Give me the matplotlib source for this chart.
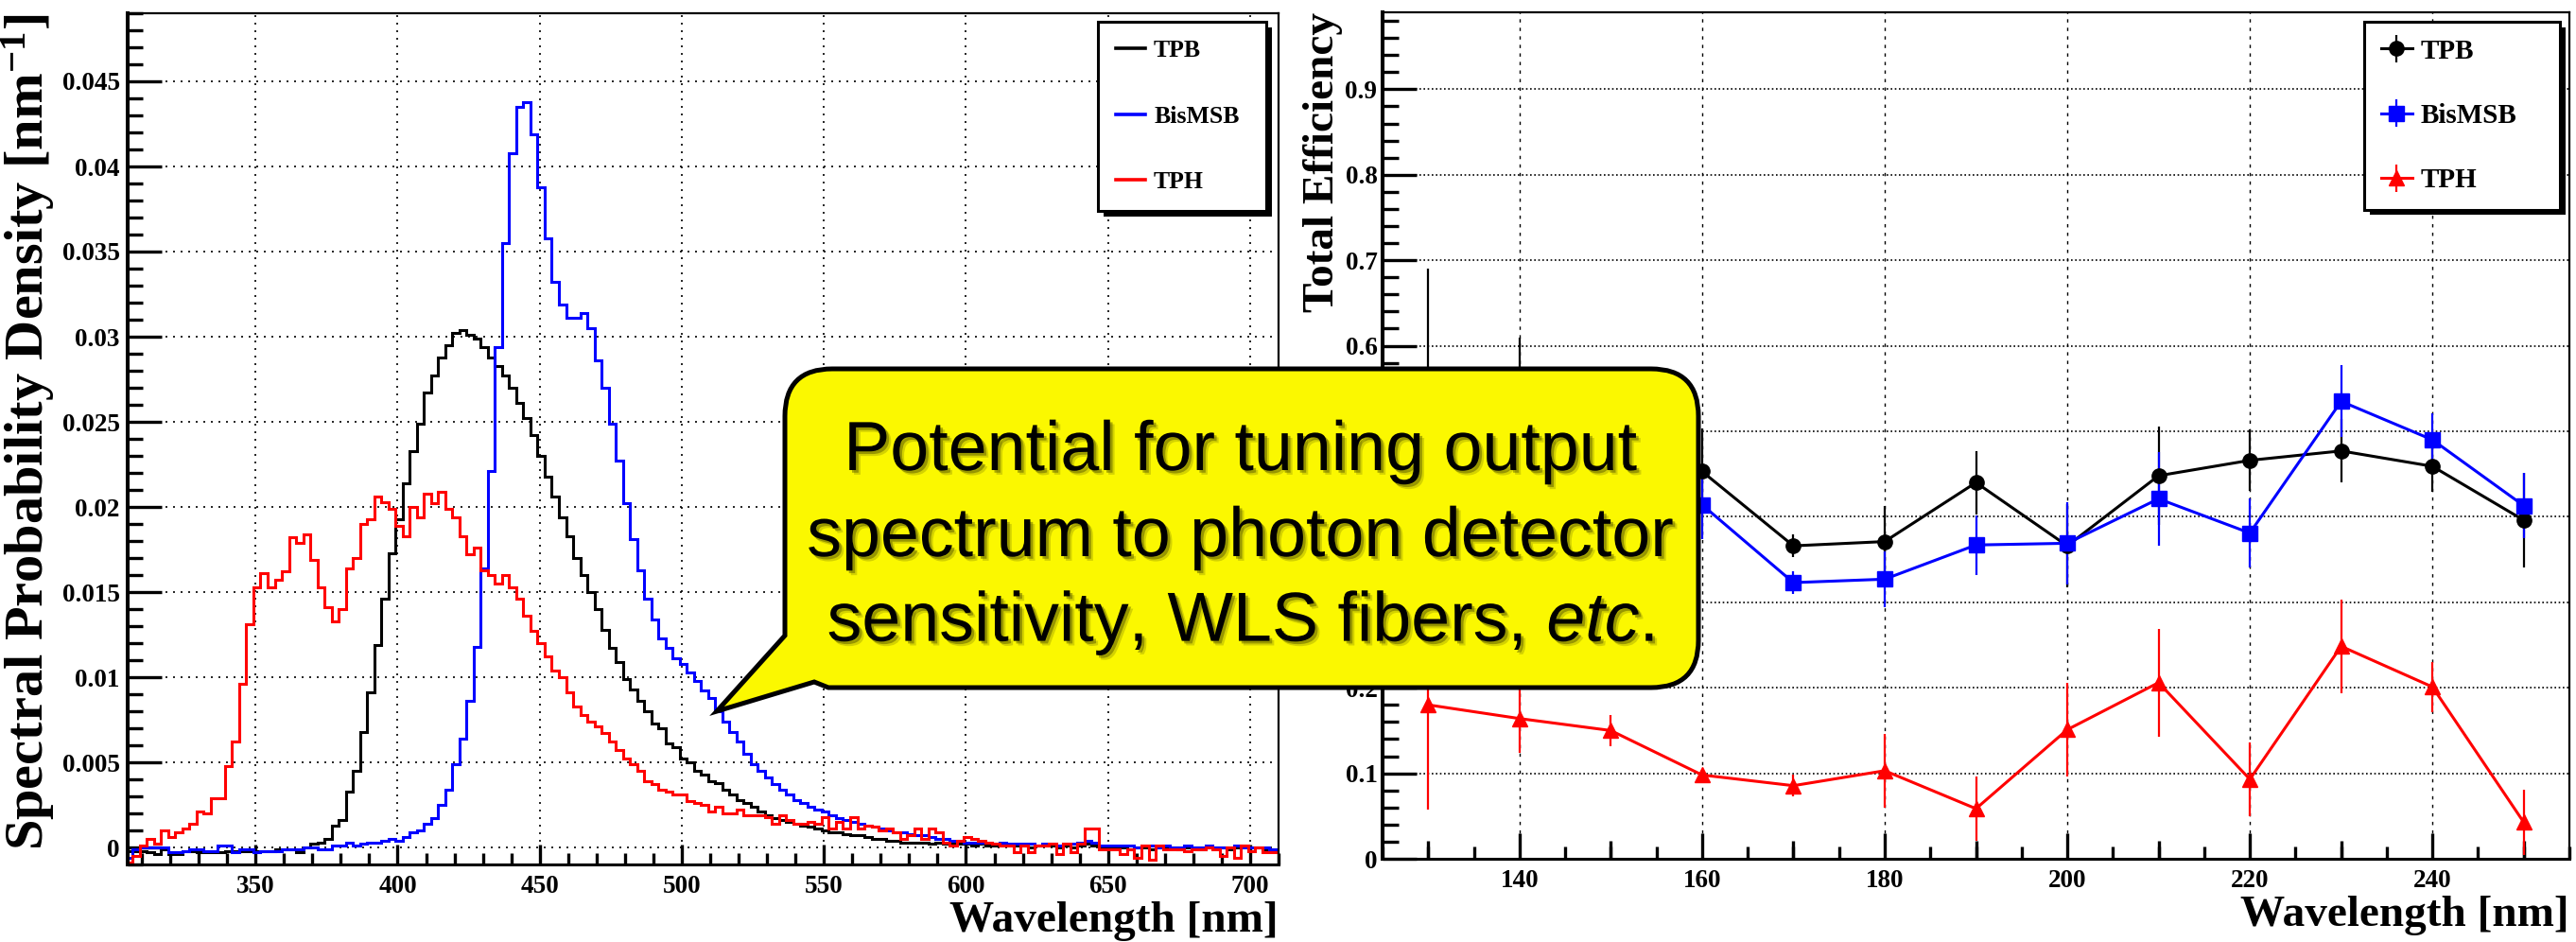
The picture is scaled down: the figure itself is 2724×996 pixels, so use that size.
import numpy as np
import matplotlib
matplotlib.use("Agg")
import matplotlib.pyplot as plt
from matplotlib.path import Path
from matplotlib.patches import PathPatch
from matplotlib.lines import Line2D
from matplotlib.ticker import MultipleLocator, FuncFormatter
import matplotlib.patheffects as pe

plt.rcParams['font.family'] = ['Liberation Serif', 'DejaVu Serif']
plt.rcParams['font.weight'] = 'bold'
plt.rcParams['axes.labelweight'] = 'bold'
plt.rcParams['mathtext.fontset'] = 'custom'
plt.rcParams['mathtext.it'] = 'Liberation Sans:style=italic:weight=normal'
plt.rcParams['mathtext.rm'] = 'Liberation Serif:weight=bold'
plt.rcParams['mathtext.default'] = 'regular'

# ---- emission spectra, 2.5 nm bins starting at 304.25 nm ----
bin_start = 304.25
bin_width = 2.5
tpb_spec = [
    -0.0002, -0.0002, -0.0002, -0.0003, -0.0004, -0.0001, -0.0004, -0.0004, -0.0002, -0.0002,
    -0.0003, -0.0003, -0.0003, -0.0003, -0.0002, -0.0002, -0.0002, -0.0002, -0.0002, -0.0002,
    -0.0002, -0.0001, -0.0001, -0.0001, -0.0003, 0.0000, 0.0002, 0.0003, 0.0005, 0.0013,
    0.0016, 0.0033, 0.0045, 0.0068, 0.0091, 0.0119, 0.0146, 0.0173, 0.0193, 0.0214,
    0.0233, 0.0249, 0.0267, 0.0277, 0.0288, 0.0295, 0.0302, 0.0304, 0.0301, 0.0299,
    0.0294, 0.0288, 0.0283, 0.0277, 0.0270, 0.0261, 0.0252, 0.0242, 0.0230, 0.0218,
    0.0206, 0.0194, 0.0183, 0.0170, 0.0160, 0.0150, 0.0140, 0.0128, 0.0117, 0.0109,
    0.0099, 0.0093, 0.0086, 0.0080, 0.0073, 0.0070, 0.0061, 0.0059, 0.0052, 0.0050,
    0.0045, 0.0043, 0.0039, 0.0038, 0.0034, 0.0031, 0.0028, 0.0026, 0.0024, 0.0021,
    0.0019, 0.0017, 0.0016, 0.0015, 0.0014, 0.0013, 0.0012, 0.0011, 0.0010, 0.0009,
    0.0009, 0.0008, 0.0007, 0.0007, 0.0006, 0.0005, 0.0005, 0.0004, 0.0004, 0.0003,
    0.0003, 0.0003, 0.0003, 0.0002, 0.0003, 0.0002, 0.0002, 0.0002, 0.0002, 0.0001,
    0.0002, 0.0001, 0.0001, 0.0001, 0.0001, 0.0001, 0.0001, 0.0000, 0.0001, 0.0001,
    0.0001, 0.0000, 0.0001, 0.0000, 0.0001, 0.0002, 0.0001, 0.0000, 0.0000, 0.0000,
    0.0000, -0.0001, 0.0000, 0.0000, -0.0001, 0.0000, 0.0000, 0.0000, -0.0001, 0.0000,
    0.0000, -0.0001, 0.0000, 0.0000, 0.0000, -0.0001, 0.0000, 0.0001, 0.0000, 0.0000,
    -0.0001, -0.0001, -0.0001]
bismsb_spec = [
    -0.0006, -0.0001, 0.0000, 0.0000, 0.0000, 0.0000, -0.0003, -0.0003, -0.0002, -0.0001,
    -0.0001, -0.0002, -0.0002, 0.0001, 0.0001, -0.0003, -0.0001, -0.0001, -0.0003, -0.0002,
    -0.0002, -0.0002, -0.0001, -0.0001, -0.0001, 0.0000, 0.0000, -0.0001, -0.0001, 0.0001,
    0.0001, 0.0003, 0.0001, 0.0002, 0.0003, 0.0003, 0.0004, 0.0005, 0.0004, 0.0006,
    0.0009, 0.0010, 0.0014, 0.0017, 0.0025, 0.0034, 0.0049, 0.0064, 0.0086, 0.0118,
    0.0164, 0.0221, 0.0294, 0.0355, 0.0408, 0.0435, 0.0438, 0.0419, 0.0388, 0.0358,
    0.0332, 0.0319, 0.0311, 0.0311, 0.0314, 0.0305, 0.0286, 0.0270, 0.0249, 0.0227,
    0.0202, 0.0181, 0.0163, 0.0146, 0.0134, 0.0123, 0.0117, 0.0111, 0.0108, 0.0103,
    0.0098, 0.0092, 0.0088, 0.0080, 0.0074, 0.0068, 0.0062, 0.0055, 0.0049, 0.0045,
    0.0041, 0.0037, 0.0034, 0.0031, 0.0028, 0.0026, 0.0024, 0.0022, 0.0021, 0.0019,
    0.0017, 0.0016, 0.0015, 0.0014, 0.0013, 0.0012, 0.0011, 0.0010, 0.0009, 0.0009,
    0.0008, 0.0007, 0.0007, 0.0006, 0.0005, 0.0005, 0.0004, 0.0004, 0.0003, 0.0003,
    0.0003, 0.0003, 0.0002, 0.0003, 0.0002, 0.0002, 0.0002, 0.0002, 0.0001, 0.0002,
    0.0002, 0.0001, 0.0002, 0.0002, 0.0003, 0.0004, 0.0003, 0.0001, 0.0001, 0.0001,
    0.0001, 0.0001, 0.0000, 0.0001, 0.0001, 0.0000, 0.0001, 0.0000, 0.0000, 0.0001,
    0.0000, 0.0000, 0.0001, 0.0000, 0.0000, 0.0000, 0.0001, 0.0000, 0.0000, 0.0000,
    0.0000, -0.0001, -0.0001]
tph_spec = [
    -0.0009, -0.0005, 0.0001, 0.0005, 0.0002, 0.0010, 0.0006, 0.0009, 0.0011, 0.0014,
    0.0021, 0.0020, 0.0029, 0.0029, 0.0048, 0.0062, 0.0096, 0.0131, 0.0153, 0.0161,
    0.0153, 0.0157, 0.0162, 0.0182, 0.0179, 0.0184, 0.0169, 0.0153, 0.0141, 0.0133,
    0.0140, 0.0164, 0.0170, 0.0190, 0.0193, 0.0206, 0.0203, 0.0199, 0.0189, 0.0183,
    0.0200, 0.0194, 0.0208, 0.0202, 0.0209, 0.0199, 0.0194, 0.0183, 0.0172, 0.0176,
    0.0163, 0.0160, 0.0155, 0.0160, 0.0153, 0.0146, 0.0136, 0.0127, 0.0120, 0.0112,
    0.0104, 0.0100, 0.0091, 0.0083, 0.0078, 0.0074, 0.0071, 0.0067, 0.0062, 0.0057,
    0.0052, 0.0049, 0.0045, 0.0039, 0.0037, 0.0034, 0.0033, 0.0031, 0.0031, 0.0027,
    0.0026, 0.0025, 0.0021, 0.0024, 0.0020, 0.0020, 0.0022, 0.0019, 0.0019, 0.0019,
    0.0018, 0.0014, 0.0019, 0.0016, 0.0014, 0.0014, 0.0015, 0.0014, 0.0018, 0.0011,
    0.0015, 0.0011, 0.0018, 0.0011, 0.0013, 0.0012, 0.0010, 0.0011, 0.0009, 0.0005,
    0.0007, 0.0011, 0.0005, 0.0011, 0.0009, 0.0003, 0.0001, 0.0004, 0.0006, 0.0005,
    0.0004, 0.0003, 0.0002, 0.0001, 0.0001, -0.0003, 0.0001, -0.0003, 0.0001, 0.0001,
    0.0002, -0.0004, 0.0002, -0.0003, 0.0002, 0.0011, 0.0011, -0.0001, -0.0001, -0.0001,
    -0.0004, -0.0001, -0.0006, 0.0001, -0.0007, 0.0001, -0.0001, -0.0001, -0.0001, -0.0002,
    -0.0001, -0.0001, 0.0000, -0.0001, -0.0005, 0.0000, -0.0006, 0.0001, -0.0002, 0.0000,
    -0.0003, -0.0003, -0.0003]

# ---- total efficiency vs excitation wavelength ----
wl = [130, 140, 150, 160, 170, 180, 190, 200, 210, 220, 230, 240, 250]
tpb_eff = [0.450, 0.480, 0.460, 0.453, 0.366, 0.371, 0.440, 0.366, 0.448, 0.466, 0.477, 0.459, 0.396]
tpb_err = [0.240, 0.130, 0.050, 0.050, 0.013, 0.042, 0.037, 0.049, 0.057, 0.036, 0.037, 0.030, 0.055]
bis_eff = [0.420, 0.440, 0.430, 0.414, 0.323, 0.327, 0.367, 0.369, 0.421, 0.381, 0.535, 0.490, 0.413]
bis_err = [0.080, 0.060, 0.050, 0.040, 0.013, 0.033, 0.035, 0.048, 0.055, 0.040, 0.042, 0.031, 0.038]
tph_eff = [0.180, 0.164, 0.150, 0.098, 0.0855, 0.103, 0.0586, 0.151, 0.206, 0.093, 0.2485, 0.201, 0.0427]
tph_err = [0.123, 0.040, 0.018, 0.006, 0.0125, 0.043, 0.038, 0.055, 0.063, 0.043, 0.055, 0.029, 0.038]

note_lines = ["Potential for tuning output",
              "spectrum to photon detector",
              r"sensitivity, WLS fibers, $\mathit{etc}$."]

W, H = 2724, 996
fig = plt.figure(figsize=(W / 100, H / 100), dpi=100)


def fx(px):
    return px / W


def fy(py):
    return 1 - py / H


def root_style(ax, ylen, yminlen, xlen, xminlen):
    ax.spines['left'].set_linewidth(2.9)
    ax.spines['bottom'].set_linewidth(2.2)
    ax.spines['top'].set_linewidth(1.6)
    ax.spines['right'].set_linewidth(1.6)
    ax.tick_params(which='both', direction='in', top=False, right=False, width=2.4,
                   labelsize=19.5)
    ax.tick_params(axis='y', which='major', length=ylen, pad=6)
    ax.tick_params(axis='y', which='minor', length=yminlen)
    ax.tick_params(axis='x', which='major', length=xlen, pad=8)
    ax.tick_params(axis='x', which='minor', length=xminlen)
    ax.yaxis.set_major_formatter(FuncFormatter(lambda v, p: '%g' % round(v, 6)))
    ax.set_axisbelow(True)


# ---------------- left panel ----------------
ax1 = fig.add_axes([fx(135), fy(914), fx(1352 - 135), 900 / H])
edges = bin_start + bin_width * np.arange(len(tpb_spec) + 1)
ax1.stairs(tpb_spec, edges, color='k', lw=2.2, baseline=None)
ax1.stairs(bismsb_spec, edges, color='b', lw=2.2, baseline=None)
ax1.stairs(tph_spec, edges, color='r', lw=2.2, baseline=None)
ax1.set_xlim(305, 710)
ax1.set_ylim(-0.001, 0.049)
ax1.xaxis.set_major_locator(MultipleLocator(50))
ax1.xaxis.set_minor_locator(MultipleLocator(10))
ax1.yaxis.set_major_locator(MultipleLocator(0.005))
ax1.yaxis.set_minor_locator(MultipleLocator(0.001))
root_style(ax1, 26, 11.5, 15, 8.5)
ax1.grid(True, which='major', color='k', lw=1.2, linestyle=(0, (1.2, 3.6)))
ax1.set_xlabel('Wavelength [nm]', loc='right', fontsize=34, labelpad=2)
ax1.set_ylabel('Spectral Probability Density [nm$^{-1}$]', loc='top', fontsize=42, labelpad=4)

handles = [Line2D([], [], color=c, lw=2.6) for c in ('k', 'b', 'r')]
leg1 = ax1.legend(handles, ['TPB', 'BisMSB', 'TPH'], loc='upper left',
                  bbox_to_anchor=(fx(1161), fy(23), fx(178), 0), bbox_transform=fig.transFigure,
                  mode='expand', borderaxespad=0, fontsize=18.5, handlelength=1.2,
                  handletextpad=0.35, borderpad=0.75, labelspacing=1.8,
                  fancybox=False, edgecolor='k', framealpha=1)
leg1.get_frame().set_linewidth(2.2)
leg1.get_frame().set_path_effects([pe.SimplePatchShadow(offset=(4, -4), shadow_rgbFace='k', alpha=1.0),
                                   pe.Normal()])

# ---------------- right panel ----------------
ax2 = fig.add_axes([fx(1462), fy(908), fx(2717 - 1462), 895 / H])
eb_kw = dict(ms=11, lw=2.2, elinewidth=1.6, capsize=0)
ax2.errorbar(wl, tpb_eff, yerr=tpb_err, color='k', marker='o', label='TPB', **eb_kw)
ax2.errorbar(wl, bis_eff, yerr=bis_err, color='b', marker='s', label='BisMSB', **eb_kw)
ax2.errorbar(wl, tph_eff, yerr=tph_err, color='r', marker='^', label='TPH', **eb_kw)
ax2.set_xlim(125, 255)
ax2.set_ylim(0, 0.99)
ax2.xaxis.set_major_locator(MultipleLocator(20))
ax2.xaxis.set_minor_locator(MultipleLocator(5))
ax2.yaxis.set_major_locator(MultipleLocator(0.1))
ax2.yaxis.set_minor_locator(MultipleLocator(0.02))
root_style(ax2, 26, 12.5, 19.5, 9.5)
ax2.tick_params(axis='y', which='major', pad=4)
# labels 0.3-0.5 sit under the speech bubble in the original
ax2.yaxis.set_major_formatter(FuncFormatter(
    lambda v, p: '' if 0.25 < v < 0.55 else '%g' % round(v, 6)))
ax2.grid(True, which='major', axis='x', color='k', lw=1.0, linestyle=(0, (2.5, 4)))
ax2.grid(True, which='major', axis='y', color='k', lw=1.2, linestyle=(0, (1, 1.6)))
sec = ax2.secondary_xaxis('bottom')
sec.set_xticks(np.arange(130, 251, 20))
sec.set_xticklabels([])
sec.tick_params(direction='in', length=14, width=2.4)
sec.spines['bottom'].set_visible(False)
ax2.set_xlabel('Wavelength [nm]', loc='right', fontsize=34, labelpad=2)
ax2.set_ylabel('Total Efficiency', loc='top', fontsize=34, labelpad=2)

leg2 = ax2.legend(loc='upper left', bbox_to_anchor=(fx(2500), fy(23), fx(207), 0),
                  bbox_transform=fig.transFigure, mode='expand', borderaxespad=0,
                  fontsize=21, handlelength=1.15, handletextpad=0.3, borderpad=0.6,
                  labelspacing=1.42, fancybox=False, edgecolor='k', framealpha=1)
leg2.get_frame().set_linewidth(2.2)
leg2.get_frame().set_path_effects([pe.SimplePatchShadow(offset=(4, -4), shadow_rgbFace='k', alpha=1.0),
                                   pe.Normal()])

# ---------------- speech bubble ----------------
L, R, T, B, r = 830, 1796, 390, 727, 50
tip = (758, 752)
pts = [(tip, Path.MOVETO), ((861, 721), Path.LINETO), ((876, 727), Path.LINETO),
       ((R - r, B), Path.LINETO), ((R, B), Path.CURVE3), ((R, B - r), Path.CURVE3),
       ((R, T + r), Path.LINETO), ((R, T), Path.CURVE3), ((R - r, T), Path.CURVE3),
       ((L + r, T), Path.LINETO), ((L, T), Path.CURVE3), ((L, T + r), Path.CURVE3),
       ((L, 672), Path.LINETO), (tip, Path.CLOSEPOLY)]
verts = [(fx(x), fy(y)) for (x, y), _ in pts]
codes = [c for _, c in pts]
bubble = PathPatch(Path(verts, codes), transform=fig.transFigure, facecolor='#fbf800',
                   edgecolor='k', lw=3.6, joinstyle='miter', zorder=10)
fig.add_artist(bubble)

shadow = [pe.SimplePatchShadow(offset=(3.5, -3.5), shadow_rgbFace=(0.55, 0.55, 0.0), alpha=0.35),
          pe.SimplePatchShadow(offset=(2, -2), shadow_rgbFace=(0.3, 0.3, 0.0), alpha=0.45),
          pe.Normal()]
for line, base in zip(note_lines, (497, 588, 678)):
    fig.text(fx(1312), fy(base), line, ha='center', va='baseline', fontsize=53,
             family=['Liberation Sans', 'DejaVu Sans'], weight='normal', color='k',
             zorder=11, path_effects=shadow)

fig.savefig('out.png', dpi=100)
